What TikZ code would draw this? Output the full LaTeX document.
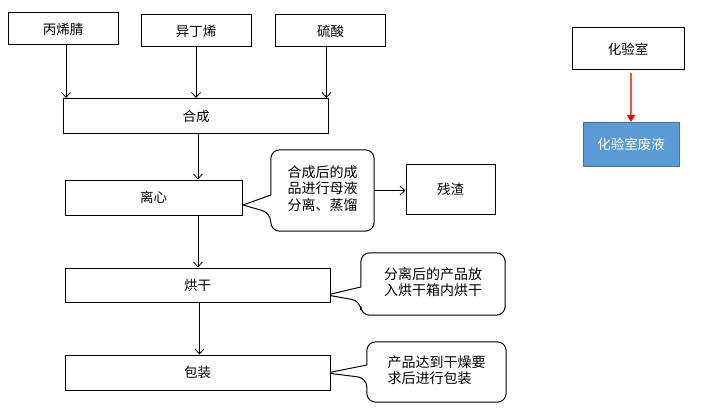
\documentclass[tikz,border=0pt]{standalone}
\usepackage{fontspec}
\setmainfont{Noto Sans CJK SC}
\usetikzlibrary{arrows.meta,calc}
\pgfdeclarelayer{background}
\pgfsetlayers{background,main}
\definecolor{blueFill}{HTML}{5B9BD5}
\definecolor{blueLine}{HTML}{41719C}
\tikzset{
  box/.style={draw=black,line width=1pt,fill=white,inner sep=0pt,font=\fontsize{13.5}{16}\selectfont},
  calloutbody/.style={inner sep=0pt,font=\fontsize{14}{16}\selectfont},
  flow/.style={line width=0.8pt,-{Straight Barb[length=5pt,width=9pt,line width=0.8pt]}},
  redflow/.style={draw=red!70,line width=1.2pt,-{Triangle[length=7pt,width=8pt,fill=red,color=red]}},
  calloutline/.style={draw=black,line width=1pt,fill=white}
}
\newcommand{\mycallout}[4]{% name, tip, upper base y, lower base y
  \begin{pgfonlayer}{background}
  \draw[calloutline] (#2) -- (#1.west |- 0,#3) [rounded corners=9pt] -- (#1.north west) -- (#1.north east) -- (#1.south east) -- (#1.south west) -- (#1.west |- 0,#4) [sharp corners] -- cycle;
  \end{pgfonlayer}
}
\newcommand{\leftlines}[1]{\renewcommand{\arraystretch}{1.0}\setlength{\tabcolsep}{0pt}\begin{tabular}{l}#1\end{tabular}}
\begin{document}
\begin{tikzpicture}[x=1pt,y=-1pt]
\useasboundingbox (0,0) rectangle (703,409);
% top inputs
\node[box,minimum width=110pt,minimum height=32pt] (bx) at (63,29) {丙烯腈};
\node[box,minimum width=110pt,minimum height=32pt] (yd) at (196,31) {异丁烯};
\node[box,minimum width=110pt,minimum height=32pt] (ls) at (330.5,31) {硫酸};
\node[box,minimum width=265pt,minimum height=35pt] (hc) at (196,116) {合成};
\node[box,minimum width=177pt,minimum height=35pt] (lx) at (153.5,197.5) {离心};
\node[box,minimum width=265pt,minimum height=34pt] (hg) at (197.5,285) {烘干};
\node[box,minimum width=265pt,minimum height=35pt] (bz) at (197.5,372.5) {包装};
\node[box,minimum width=89pt,minimum height=50pt] (cz) at (450.5,189) {残渣};
\node[box,minimum width=112pt,minimum height=42pt] (hys) at (628,49) {化验室};
\node[box,draw=blueLine,fill=blueFill,text=white,minimum width=96pt,minimum height=44pt] (fy) at (631,144.5) {化验室废液};
% arrows
\draw[flow] ([xshift=3pt]bx.south) -- ([xshift=3pt]bx.south |- hc.north);
\draw[flow] (yd.south) -- (yd.south |- hc.north);
\draw[flow] ([xshift=-4pt]ls.south) -- ([xshift=-4pt]ls.south |- hc.north);
\draw[flow] ([xshift=2pt]hc.south) -- ([xshift=2pt]hc.south |- lx.north);
\draw[flow] ([xshift=2pt]hc.south |- lx.south) -- ([xshift=2pt]hc.south |- hg.north);
\draw[flow] ([xshift=2pt]hg.south) -- ([xshift=2pt]hg.south |- bz.north);
\draw[redflow] ([xshift=3pt,yshift=-3pt]hys.south) -- ([xshift=3pt]hys.south |- fy.north);
% callouts
\node[calloutbody,minimum width=103pt,minimum height=81pt] (c1) at (322.5,190.5) {\leftlines{合成后的成\\品进行母液\\分离、蒸馏}};
\coordinate (t1) at (243,205);
\mycallout{c1}{t1}{195}{213}
\draw[flow] (c1.east) -- (c1.east -| cz.west);
\node[calloutbody,minimum width=144pt,minimum height=62pt] (c2) at (433,284) {\leftlines{分离后的产品放\\入烘干箱内烘干}};
\coordinate (t2) at (327,295);
\mycallout{c2}{t2}{287}{301}
\node[calloutbody,minimum width=139pt,minimum height=60pt] (c3) at (436.5,372) {\leftlines{产品达到干燥要\\求后进行包装}};
\coordinate (t3) at (327,373);
\mycallout{c3}{t3}{365}{378}
\end{tikzpicture}
\end{document}
